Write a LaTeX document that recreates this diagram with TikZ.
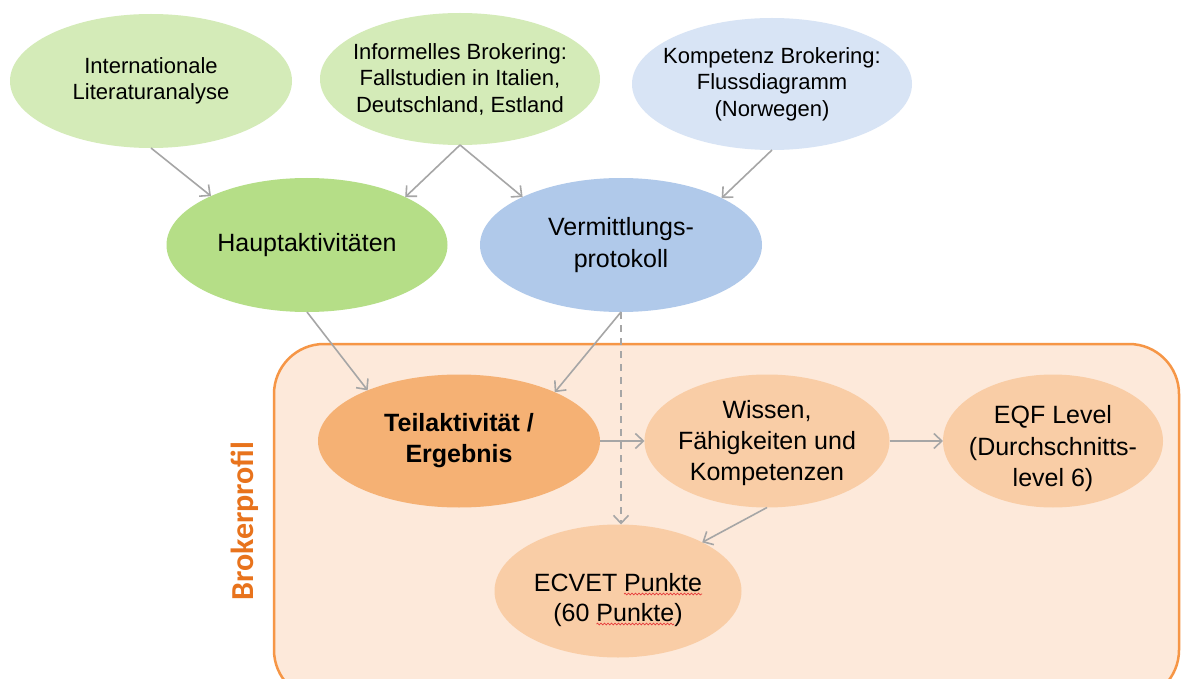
\documentclass[tikz,border=0pt]{standalone}
\usepackage{fontspec}
\setmainfont{Liberation Sans}
\newfontfamily\calibrifont{Carlito}
\usetikzlibrary{shapes.geometric,arrows.meta,decorations.pathmorphing,calc}
\definecolor{lgreen}{RGB}{212,235,184}
\definecolor{mgreen}{RGB}{181,222,135}
\definecolor{lblue}{RGB}{216,228,245}
\definecolor{mblue}{RGB}{176,201,234}
\definecolor{dorange}{RGB}{245,177,116}
\definecolor{lorange}{RGB}{249,205,166}
\definecolor{bgorange}{RGB}{253,233,218}
\definecolor{borange}{RGB}{246,150,70}
\definecolor{torange}{RGB}{232,115,28}
\definecolor{arrgray}{RGB}{166,166,166}
\definecolor{spellred}{RGB}{230,60,60}
\tikzset{
  bubble/.style={ellipse, inner sep=-45pt, outer sep=0pt, align=center, text=black},
  smalltxt/.style={font=\fontsize{22}{26.5}\selectfont},
  midtxt/.style={font=\fontsize{25}{32}\selectfont},
  bigtxt/.style={font=\fontsize{25}{31}\selectfont},
  arr/.style={draw=arrgray, line width=1.6pt, -{Straight Barb[length=8pt,width=15pt]}},
  dasharr/.style={arr, dash pattern=on 7pt off 6pt},
  frame/.style={draw=borange, fill=bgorange, line width=2.5pt, rounded corners=50pt},
  spell/.style={draw=spellred, line width=0.7pt, decorate, decoration={snake, segment length=3.5pt, amplitude=0.9pt}}
}
\begin{document}
\begin{tikzpicture}[x=1pt,y=-1pt]
\useasboundingbox (0,0) rectangle (1181,679);
\clip (0,0) rectangle (1181,679);
\fill[white] (0,0) rectangle (1181,679);

% Brokerprofil frame
\draw[frame] (274,344) rectangle (1179,700);
\node[rotate=90, text=torange, font=\calibrifont\bfseries\fontsize{32}{36}\selectfont] (brokerlabel) at (245,521) {Brokerprofil};

% top row
\node[bubble, smalltxt, fill=lgreen, minimum width=282pt, minimum height=134pt] (intl) at (151,81) {Internationale\\Literaturanalyse};
\node[bubble, smalltxt, fill=lgreen, minimum width=280pt, minimum height=132pt] (info) at (460,79) {Informelles Brokering:\\Fallstudien in Italien,\\Deutschland, Estland};
\node[bubble, smalltxt, fill=lblue, minimum width=280pt, minimum height=132pt] (komp) at (772,84) {Kompetenz Brokering:\\Flussdiagramm\\(Norwegen)};

% middle row
\node[bubble, midtxt, fill=mgreen, minimum width=281pt, minimum height=134pt] (haupt) at (307,245) {Hauptaktivitäten};
\node[bubble, midtxt, fill=mblue, minimum width=282pt, minimum height=134pt] (verm) at (621,245) {Vermittlungs-\\protokoll};

% frame contents
\node[bubble, fill=dorange, minimum width=282pt, minimum height=133pt, font=\bfseries\fontsize{25}{31}\selectfont] (teil) at (459,441) {Teilaktivität /\\Ergebnis};
\node[bubble, fill=lorange, minimum width=245pt, minimum height=133pt] (wissen) at (767,441) {};
\node[align=center, inner sep=0pt, bigtxt] (wissentext) at (767,443) {Wissen,\\Fähigkeiten und\\Kompetenzen};
\node[bubble, fill=lorange, minimum width=220pt, minimum height=133pt] (eqf) at (1053,441) {};
\node[align=center, inner sep=0pt, font=\fontsize{25}{31.5}\selectfont] (eqftext) at (1053,449) {EQF Level\\(Durchschnitts-\\level 6)};
\node[bubble, fill=lorange, minimum width=247pt, minimum height=133pt] (ecvet) at (618,591) {};
\node[align=center, inner sep=0pt, font=\fontsize{25}{30}\selectfont] (ecvettext) at (618,600) {ECVET Punkte\\(60 Punkte)};
\draw[spell] ($(ecvettext.center)+(6,-6)$) -- ($(ecvettext.center)+(84,-6)$);
\draw[spell] ($(ecvettext.center)+(-21.5,24)$) -- ($(ecvettext.center)+(56,24)$);

% connectors
\draw[arr] (intl.south) -- (haupt.153);
\draw[arr] (info.south) -- (haupt.26);
\draw[arr] (info.south) -- (verm.154);
\draw[arr] (komp.south) -- (verm.25);
\draw[arr] (haupt.south) -- (teil.151);
\draw[arr] (verm.south) -- (teil.27);
\draw[dasharr] (verm.south) -- (verm.south |- ecvet.north);
\draw[arr] (teil.east) -- (wissen.west);
\draw[arr] (wissen.east) -- (eqf.west);
\draw[arr] (wissen.south) -- (ecvet.30);
\end{tikzpicture}
\end{document}
